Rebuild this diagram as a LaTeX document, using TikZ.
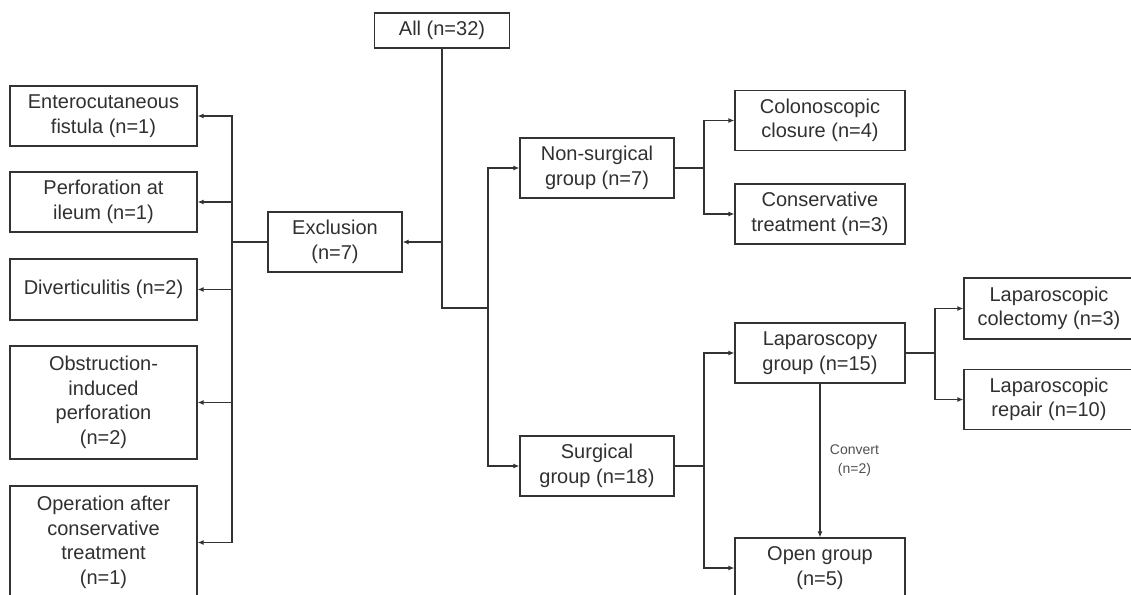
\documentclass[tikz,border=0pt]{standalone}
\usepackage{fontspec}
\setmainfont{Liberation Sans}
\usepackage{tikz}
\usetikzlibrary{arrows.meta,positioning}
\usepackage{xcolor}
\definecolor{linegray}{HTML}{333333}
\definecolor{textgray}{HTML}{303030}
\definecolor{notegray}{HTML}{505050}

\begin{document}
\begin{tikzpicture}[x=1pt, y=-1pt,
  box/.style={rectangle, draw=linegray, line width=1.2pt, inner sep=0pt,
              minimum height=60pt, align=center, text=textgray,
              font=\fontsize{20}{24.5}\selectfont},
  leftbox/.style={box, minimum width=187pt},
  grpbox/.style={box, minimum width=154pt},
  outbox/.style={box, minimum width=170pt},
  line/.style={draw=linegray, line width=1.2pt},
  arr/.style={line, -{Latex[length=6pt, width=5pt]}},
  note/.style={font=\fontsize{14}{19}\selectfont, text=notegray, align=center}
]
\useasboundingbox (0,0) rectangle (1131,594);
\clip (0,0) rectangle (1131,594);

\node[box, minimum width=135pt, minimum height=35pt] (all) at (442,30.5) {All (n=32)};
\node[box, minimum width=134pt] (excl) at (335,242) {Exclusion\\(n=7)};

\node[leftbox] (ent)  at (103.5,116)   {Enterocutaneous\\fistula (n=1)};
\node[leftbox] (perf) at (103.5,202)   {Perforation at\\ileum (n=1)};
\node[leftbox, minimum height=61pt] (div) at (103.5,289.5) {Diverticulitis (n=2)};
\node[leftbox, minimum height=113pt] (obst) at (103.5,402.5) {Obstruction-\\induced\\perforation\\(n=2)};
\node[leftbox, minimum height=113pt] (oper) at (103.5,542.5) {Operation after\\conservative\\treatment\\(n=1)};

\node[grpbox] (nonsurg) at (597,168) {Non-surgical\\group (n=7)};
\node[grpbox] (surg)    at (597,466) {Surgical\\group (n=18)};

\node[outbox] (colon) at (820,120.5) {Colonoscopic\\closure (n=4)};
\node[outbox] (cons)  at (820,214)   {Conservative\\treatment (n=3)};
\node[outbox] (lap)   at (820,353)   {Laparoscopy\\group (n=15)};
\node[outbox] (open)  at (820,568)   {Open group\\(n=5)};

\node[outbox, minimum height=61pt] (lapcol) at (1049,308.5) {Laparoscopic\\colectomy (n=3)};
\node[outbox] (laprep) at (1049,399.5) {Laparoscopic\\repair (n=10)};

\coordinate (jall) at (442,308);
\coordinate (jgrp) at (488,308);
\coordinate (jexc) at (232,242);
\coordinate (jns)  at (704,168);
\coordinate (jsg)  at (704,466);
\coordinate (jlap) at (935,353);

\draw[line] (all.south) -- (jall) -- (jgrp);
\draw[arr] (all.south |- excl) -- (excl);
\draw[arr] (jgrp) |- (nonsurg);
\draw[arr] (jgrp) |- (surg);

\draw[line] (excl) -- (jexc);
\foreach \n in {ent,perf,div,obst,oper}
  \draw[arr] (jexc) |- (\n);

\draw[line] (nonsurg) -- (jns);
\draw[arr] (jns) |- (colon);
\draw[arr] (jns) |- (cons);

\draw[line] (surg) -- (jsg);
\draw[arr] (jsg) |- (lap);
\draw[arr] (jsg) |- (open);

\draw[line] (lap) -- (jlap);
\draw[arr] (jlap) |- (lapcol);
\draw[arr] (jlap) |- (laprep);

\draw[arr] (lap) -- node[note, right=6pt] {Convert\\(n=2)} (open);

\end{tikzpicture}
\end{document}
